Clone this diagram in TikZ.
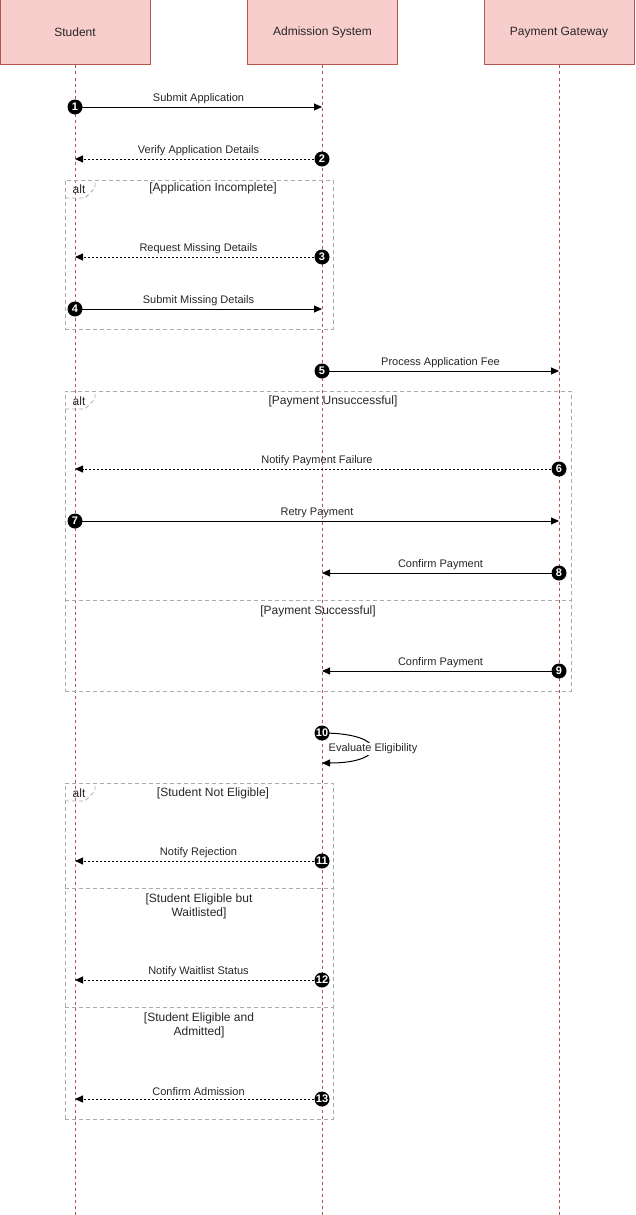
\documentclass[tikz,border=0pt]{standalone}
\usepackage{fontspec}
\setmainfont{Liberation Sans}
\usetikzlibrary{arrows.meta}
\definecolor{ink}{HTML}{262626}
\definecolor{actorfill}{HTML}{F8CECC}
\definecolor{actorline}{HTML}{B85450}
\definecolor{framegray}{HTML}{ABABAB}

\begin{document}
\begin{tikzpicture}[
  x=1pt, y=-1pt,
  font=\fontsize{11}{13}\selectfont,
  text=ink,
  actor/.style={
    draw=actorline,
    fill=actorfill,
    line width=1pt,
    inner sep=0pt,
    minimum width=150pt,
    minimum height=65pt,
    font=\fontsize{12}{14}\selectfont
  },
  lifeline/.style={draw=actorline, line width=0.9pt, dash pattern=on 3pt off 3pt},
  badge/.style={
    circle,
    fill=black,
    text=white,
    inner sep=0pt,
    minimum size=15pt,
    font=\fontsize{11}{11}\selectfont\bfseries
  },
  call/.style={-{Triangle[length=8pt,width=7pt]}, draw=black, line width=1pt},
  reply/.style={call, dash pattern=on 2pt off 2pt},
  msglabel/.style={above=2pt, inner sep=1pt},
  frame/.style={draw=framegray, line width=0.9pt, dash pattern=on 4pt off 3pt, inner sep=0pt},
  guard/.style={align=center, inner sep=1pt, font=\fontsize{12}{14}\selectfont}
]
\useasboundingbox (0,0) rectangle (635,1215);

% Participants and lifelines
\node[actor] (student) at (75,32.5) {Student};
\node[actor] (admission) at (322.5,32.5) {Admission System};
\node[actor] (gateway) at (559,32.5) {Payment Gateway};

\coordinate (studentend) at (75,1215);
\coordinate (admissionend) at (322,1215);
\coordinate (gatewayend) at (559,1215);

\draw[lifeline] (student.south) -- (studentend);
\draw[lifeline] (admission.south -| admissionend) -- (admissionend);
\draw[lifeline] (gateway.south) -- (gatewayend);

% Combined fragments
\node[frame, anchor=north west, minimum width=268pt, minimum height=149pt] (altone) at (65,180) {};
\node[frame, anchor=north west, minimum width=506pt, minimum height=300pt] (alttwo) at (65,391) {};
\node[frame, anchor=north west, minimum width=268pt, minimum height=336pt] (altthree) at (65,783) {};

\draw[frame] ([yshift=-18pt]altone.north west) -- ++(20,0) -- ++(10,-10) -- ++(0,-8);
\draw[frame] ([yshift=-18pt]alttwo.north west) -- ++(20,0) -- ++(10,-10) -- ++(0,-8);
\draw[frame] ([yshift=-18pt]altthree.north west) -- ++(20,0) -- ++(10,-10) -- ++(0,-8);
\draw[frame] (65,600) -- (571,600);
\draw[frame] (65,888) -- (333,888);
\draw[frame] (65,1007) -- (333,1007);

\node[guard] (altonetag) at (79,189) {alt};
\node[guard] (alttwotag) at (79,401) {alt};
\node[guard] (altthreetag) at (79,793) {alt};

\node[guard] (incomplete) at (213,188) {[Application Incomplete]};
\node[guard] (unsuccessful) at (333,401) {[Payment Unsuccessful]};
\node[guard] (successful) at (318,611) {[Payment Successful]};
\node[guard] (noteligible) at (213,793) {[Student Not Eligible]};
\node[guard] (waitlisted) at (199,906) {[Student Eligible but\\Waitlisted]};
\node[guard] (admitted) at (199,1025) {[Student Eligible and\\Admitted]};

% Application submission
\coordinate (st1) at (75,107);   \coordinate (ad1) at (322,107);
\coordinate (ad2) at (322,159);  \coordinate (st2) at (75,159);
\coordinate (ad3) at (322,257);  \coordinate (st3) at (75,257);
\coordinate (st4) at (75,309);   \coordinate (ad4) at (322,309);

\draw[call] (st1) -- node[msglabel] {Submit Application} (ad1);
\draw[reply] (ad2) -- node[msglabel] {Verify Application Details} (st2);
\draw[reply] (ad3) -- node[msglabel] {Request Missing Details} (st3);
\draw[call] (st4) -- node[msglabel] {Submit Missing Details} (ad4);

\node[badge] (b1) at (st1) {1};
\node[badge] (b2) at (ad2) {2};
\node[badge] (b3) at (ad3) {3};
\node[badge] (b4) at (st4) {4};

% Fee payment
\coordinate (ad5) at (322,371);  \coordinate (pg5) at (559,371);
\coordinate (pg6) at (559,469);  \coordinate (st6) at (75,469);
\coordinate (st7) at (75,521);   \coordinate (pg7) at (559,521);
\coordinate (pg8) at (559,573);  \coordinate (ad8) at (322,573);
\coordinate (pg9) at (559,671);  \coordinate (ad9) at (322,671);

\draw[call] (ad5) -- node[msglabel] {Process Application Fee} (pg5);
\draw[reply] (pg6) -- node[msglabel] {Notify Payment Failure} (st6);
\draw[call] (st7) -- node[msglabel] {Retry Payment} (pg7);
\draw[call] (pg8) -- node[msglabel] {Confirm Payment} (ad8);
\draw[call] (pg9) -- node[msglabel] {Confirm Payment} (ad9);

\node[badge] (b5) at (ad5) {5};
\node[badge] (b6) at (pg6) {6};
\node[badge] (b7) at (st7) {7};
\node[badge] (b8) at (pg8) {8};
\node[badge] (b9) at (pg9) {9};

% Eligibility check
\coordinate (ad10) at (322,733);
\coordinate (ad10back) at (322,763);
\draw[call] (ad10) .. controls (388,733) and (388,763) .. (ad10back);
\node[fill=white, inner sep=1pt] (evaluate) at (373,749) {Evaluate Eligibility};
\node[badge] (b10) at (ad10) {10};

% Outcome notifications
\coordinate (ad11) at (322,861);   \coordinate (st11) at (75,861);
\coordinate (ad12) at (322,980);   \coordinate (st12) at (75,980);
\coordinate (ad13) at (322,1099);  \coordinate (st13) at (75,1099);

\draw[reply] (ad11) -- node[msglabel] {Notify Rejection} (st11);
\draw[reply] (ad12) -- node[msglabel] {Notify Waitlist Status} (st12);
\draw[reply] (ad13) -- node[msglabel] {Confirm Admission} (st13);

\node[badge] (b11) at (ad11) {11};
\node[badge] (b12) at (ad12) {12};
\node[badge] (b13) at (ad13) {13};

\end{tikzpicture}
\end{document}
